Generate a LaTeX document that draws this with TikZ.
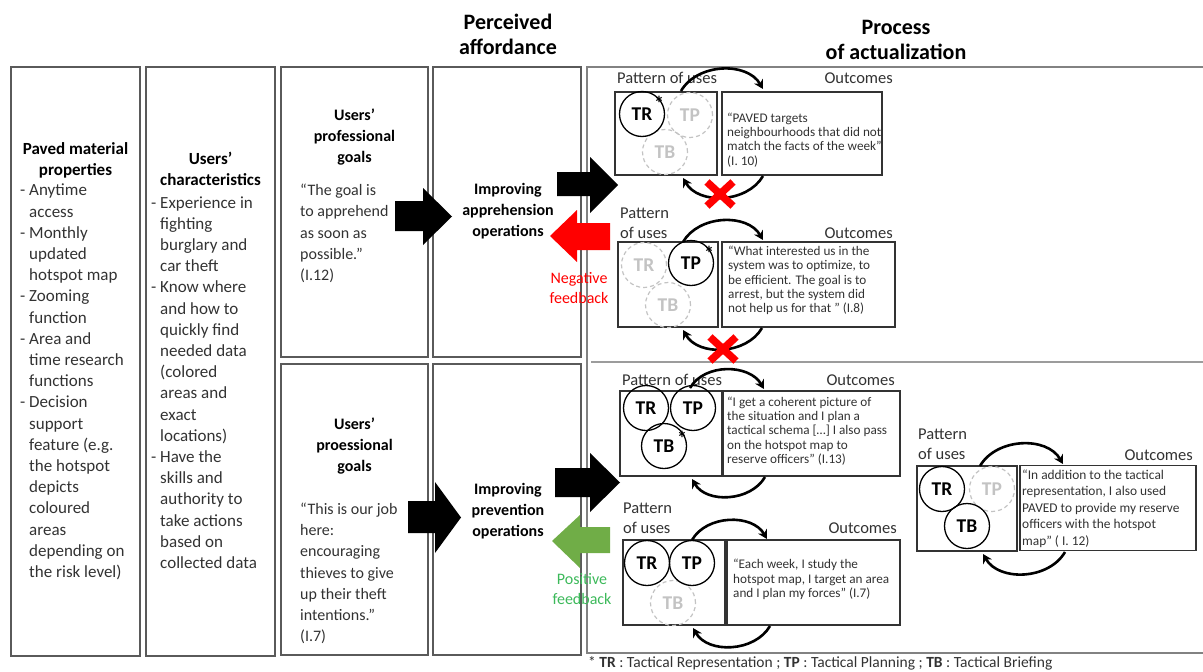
\documentclass[tikz,border=0pt]{standalone}
\usepackage{fontspec}
\setmainfont{Carlito}
\usetikzlibrary{arrows.meta}
\definecolor{boxgray}{RGB}{90,90,90}
\definecolor{procgray}{RGB}{130,130,130}
\definecolor{fadegray}{RGB}{195,195,195}
\definecolor{txtgray}{RGB}{50,50,50}
\definecolor{negred}{RGB}{255,0,0}
\definecolor{posgreen}{RGB}{112,173,71}
\definecolor{postxt}{RGB}{60,185,90}
\newcommand\mycolfont{\fontsize{17}{21.2}\selectfont}
\newcommand\mygoalfont{\fontsize{16}{21.2}\selectfont}
\newcommand\myqfont{\fontsize{13.2}{14.3}\selectfont}
\newcommand\mylabfont{\fontsize{16.5}{20}\selectfont}
\newcommand\myind{\phantom{- }}
\begin{document}
\begin{tikzpicture}[x=1pt,y=-1pt,
  colbox/.style={draw=boxgray, line width=1.4pt, inner sep=0},
  pbox/.style={draw=black!80, line width=1.3pt, inner sep=0},
  usedc/.style={circle, draw=black, line width=1.3pt, minimum size=45pt, inner sep=0, font=\bfseries\fontsize{19.5}{19.5}\selectfont},
  unusedc/.style={circle, draw=fadegray, dash pattern=on 4pt off 3pt, line width=1.2pt, minimum size=45pt, inner sep=0, text=fadegray, font=\bfseries\fontsize{19.5}{19.5}\selectfont},
  starlab/.style={inner sep=0, font=\bfseries\fontsize{20}{20}\selectfont},
  cyclearrow/.style={line width=2.6pt, -{Stealth[length=9pt,width=10pt]}},
  redx/.style={line width=7.5pt, draw=negred},
  qtext/.style={anchor=west, align=left, inner sep=0, text=txtgray, font=\myqfont},
  labtext/.style={inner sep=0, align=left, text=txtgray, font=\mylabfont},
  hdr/.style={inner sep=0, align=center, font=\bfseries\fontsize{22}{25.5}\selectfont},
  colhead/.style={inner sep=0, align=center, font=\bfseries\mycolfont},
  collist/.style={anchor=west, inner sep=0, align=left, text=txtgray, font=\mycolfont},
  goalhead/.style={inner sep=0, align=center, font=\bfseries\mygoalfont},
  goallist/.style={anchor=west, inner sep=0, align=left, text=txtgray, font=\mygoalfont}
]
\useasboundingbox (0,0) rectangle (1203,672);

% ---------- column boxes ----------
\node[colbox, minimum width=129pt, minimum height=589pt] (c1) at (75.5,361.5) {};
\node[colbox, minimum width=129pt, minimum height=589pt] (c2) at (210.5,361.5) {};
\node[colbox, minimum width=147pt, minimum height=290pt] (g1) at (354.5,212) {};
\node[colbox, minimum width=147pt, minimum height=291pt] (g2) at (354.5,509.5) {};
\node[colbox, minimum width=148pt, minimum height=290pt] (a1) at (507,212) {};
\node[colbox, minimum width=148pt, minimum height=291pt] (a2) at (507,509.5) {};

% ---------- process frame ----------
\coordinate (pTL) at (587,67);
\coordinate (pTR) at (1203,67);
\coordinate (pBL) at (587,653);
\coordinate (pBR) at (1203,653);
\coordinate (pML) at (591,362);
\coordinate (pMR) at (1203,362);
\draw[procgray, line width=1.8pt] (pTR) -- (pTL) -- (pBL) -- (pBR);
\draw[fadegray!80!black, line width=1.4pt] (pML) -- (pMR);

% ---------- headers ----------
\node[hdr] (h1) at (508,34.5) {Perceived\\affordance};
\node[hdr] (h2) at (896,40) {Process\\of actualization};

% ---------- column 1 ----------
\node[colhead] (c1h) at (75.5,160) {Paved material\\properties};
\node[collist] (c1l) at (20,382) {- Anytime\\\myind access\\- Monthly\\\myind updated\\\myind hotspot map\\- Zooming\\\myind function\\- Area and\\\myind time research\\\myind functions\\- Decision\\\myind support\\\myind feature (e.g.\\\myind the hotspot\\\myind depicts\\\myind coloured\\\myind areas\\\myind depending on\\\myind the risk level)};

% ---------- column 2 ----------
\node[colhead] (c2h) at (210.5,169) {Users’\\characteristics};
\node[collist] (c2l) at (151,382.5) {- Experience in\\\myind fighting\\\myind burglary and\\\myind car theft\\- Know where\\\myind and how to\\\myind quickly find\\\myind needed data\\\myind (colored\\\myind areas and\\\myind exact\\\myind locations)\\- Have the\\\myind skills and\\\myind authority to\\\myind take actions\\\myind based on\\\myind collected data};

% ---------- goals ----------
\node[goalhead] (g1h) at (354.5,137) {Users’\\professional\\goals};
\node[goallist] (g1q) at (300,233.5) {“The goal is\\to apprehend\\as soon as\\possible.”\\(I.12)};
\node[goalhead] (g2h) at (354.5,446) {Users’\\proessional\\goals};
\node[goallist] (g2q) at (300,573.5) {“This is our job\\here:\\encouraging\\thieves to give\\up their theft\\intentions.”\\(I.7)};

% ---------- affordances ----------
\node[goalhead] (a1t) at (508,211) {Improving\\apprehension\\operations};
\node[goalhead] (a2t) at (508,511) {Improving\\prevention\\operations};

% ---------- block arrows ----------
\fill[black] (395,201) -- (423,201) -- (423,188) -- (452,216.5) -- (423,245) -- (423,231) -- (395,231) -- cycle;
\fill[black] (557,172) -- (590,172) -- (590,157) -- (618,185) -- (590,213) -- (590,196) -- (557,196) -- cycle;
\fill[negred] (610,223) -- (577,223) -- (577,210) -- (550,236) -- (577,262) -- (577,250) -- (610,250) -- cycle;
\fill[black] (408,501) -- (435,501) -- (435,482) -- (461,517.5) -- (435,553) -- (435,533) -- (408,533) -- cycle;
\fill[black] (555,468) -- (590,468) -- (590,453) -- (620,482.5) -- (590,512) -- (590,497) -- (555,497) -- cycle;
\fill[posgreen] (610,527) -- (580,527) -- (580,515) -- (552,541) -- (580,568) -- (580,553) -- (610,553) -- cycle;

\node[inner sep=0, align=center, text=negred, font=\fontsize{16}{20}\selectfont] (negfb) at (579,288) {Negative\\feedback};
\node[inner sep=0, align=center, text=postxt, font=\fontsize{16}{20}\selectfont] (posfb) at (582,589) {Positive\\feedback};

% ---------- block A ----------
\node[labtext, anchor=west] (lA) at (617,78) {Pattern of uses};
\node[labtext, anchor=east] (oA) at (893,78) {Outcomes};
\node[pbox, minimum width=102pt, minimum height=83pt] (pA) at (666,133.5) {};
\node[pbox, minimum width=160pt, minimum height=83pt] (qA) at (802,133.5) {};
\node[unusedc] (A2) at (690,115) {TP};
\node[unusedc] (A3) at (665,152) {TB};
\node[usedc] (A1) at (642,114) {TR};
\node[starlab] (sA) at (659,103) {*};
\node[qtext] (tA) at (727,140) {“PAVED targets\\neighbourhoods that did not\\match the facts of the week”\\(I. 10)};
\coordinate (aT1) at (681,91);
\coordinate (aT2) at (763,89);
\coordinate (aB1) at (763,176);
\coordinate (aB2) at (683,178);
\draw[cyclearrow] (aT1) to[out=60,in=120] (aT2);
\draw[cyclearrow] (aB1) to[out=-120,in=-60] (aB2);
\coordinate (xA) at (720,194);
\draw[redx] ([shift={(-13,-12)}]xA) -- ([shift={(13,12)}]xA);
\draw[redx] ([shift={(-13,12)}]xA) -- ([shift={(13,-12)}]xA);

% ---------- block B ----------
\node[labtext, anchor=west] (lB) at (620,223) {Pattern\\of uses};
\node[labtext, anchor=east] (oB) at (893,233) {Outcomes};
\node[pbox, minimum width=100pt, minimum height=85pt] (pB) at (668,284.5) {};
\node[pbox, minimum width=173pt, minimum height=85pt] (qB) at (808.5,284.5) {};
\node[unusedc] (B1) at (644,265) {TR};
\node[unusedc] (B3) at (668,305) {TB};
\node[usedc] (B2) at (691,263) {TP};
\node[starlab] (sB) at (709,253) {*};
\node[qtext] (tB) at (728,280.5) {“What interested us in the\\system was to optimize, to\\be efficient. The goal is to\\arrest, but the system did\\not help us for that ” (I.8)};
\coordinate (bT1) at (683,242);
\coordinate (bT2) at (763,240);
\coordinate (bB1) at (762,328);
\coordinate (bB2) at (683,330);
\draw[cyclearrow] (bT1) to[out=60,in=120] (bT2);
\draw[cyclearrow] (bB1) to[out=-120,in=-60] (bB2);
\coordinate (xB) at (723,349);
\draw[redx] ([shift={(-13,-12)}]xB) -- ([shift={(13,12)}]xB);
\draw[redx] ([shift={(-13,12)}]xB) -- ([shift={(13,-12)}]xB);

% ---------- block C ----------
\node[labtext, anchor=west] (lC) at (622,380) {Pattern of uses};
\node[labtext, anchor=east] (oC) at (895,380) {Outcomes};
\node[pbox, minimum width=102pt, minimum height=85pt] (pC) at (671,433.5) {};
\node[pbox, minimum width=177pt, minimum height=85pt] (qC) at (811.5,433.5) {};
\node[usedc] (C1) at (646,408) {TR};
\node[usedc] (C2) at (693,408) {TP};
\node[usedc] (C3) at (664,446) {TB};
\node[starlab] (sC) at (682,438) {*};
\node[qtext] (tC) at (727,431) {“I get a coherent picture of\\the situation and I plan a\\tactical schema […] I also pass\\on the hotspot map to\\reserve officers” (I.13)};
\coordinate (cT1) at (690,388);
\coordinate (cT2) at (764,389);
\coordinate (cB1) at (765,477);
\coordinate (cB2) at (692,479);
\draw[cyclearrow] (cT1) to[out=60,in=120] (cT2);
\draw[cyclearrow] (cB1) to[out=-120,in=-60] (cB2);

% ---------- block D ----------
\node[labtext, anchor=west] (lD) at (623,518) {Pattern\\of uses};
\node[labtext, anchor=east] (oD) at (897,528) {Outcomes};
\node[pbox, minimum width=102pt, minimum height=85pt] (pD) at (674,582.5) {};
\node[pbox, minimum width=173pt, minimum height=85pt] (qD) at (813.5,582.5) {};
\node[unusedc] (D3) at (673,603) {TB};
\node[usedc] (D1) at (647,563) {TR};
\node[usedc] (D2) at (692,563) {TP};
\node[qtext] (tD) at (733,579.5) {“Each week, I study the\\hotspot map, I target an area\\and I plan my forces” (I.7)};
\coordinate (dT1) at (692,540);
\coordinate (dT2) at (767,539);
\coordinate (dB1) at (770,626);
\coordinate (dB2) at (693,628);
\draw[cyclearrow] (dT1) to[out=60,in=120] (dT2);
\draw[cyclearrow] (dB1) to[out=-120,in=-60] (dB2);

% ---------- block E ----------
\node[labtext, anchor=west] (lE) at (918,444) {Pattern\\of uses};
\node[labtext, anchor=east] (oE) at (1193,455) {Outcomes};
\node[pbox, minimum width=100pt, minimum height=85pt] (pE) at (967,508.5) {};
\node[pbox, minimum width=176pt, minimum height=85pt] (qE) at (1108,508) {};
\node[unusedc] (E2) at (992,489) {TP};
\node[usedc] (E1) at (942,489) {TR};
\node[usedc] (E3) at (967,526) {TB};
\node[qtext, font=\fontsize{13.4}{16.6}\selectfont] (tE) at (1022,508.5) {“In addition to the tactical\\representation, I also used\\PAVED to provide my reserve\\officers with the hotspot\\map” ( I. 12)};
\coordinate (eT1) at (980,466);
\coordinate (eT2) at (1063,464);
\coordinate (eB1) at (1065,552);
\coordinate (eB2) at (983,554);
\draw[cyclearrow] (eT1) to[out=60,in=120] (eT2);
\draw[cyclearrow] (eB1) to[out=-120,in=-60] (eB2);

% ---------- footnote ----------
\node[anchor=west, inner sep=0, text=txtgray, font=\fontsize{15.5}{18}\selectfont] (fn) at (588,663) {* \textbf{TR} : Tactical Representation ; \textbf{TP} : Tactical Planning ; \textbf{TB} : Tactical Briefing};
\end{tikzpicture}
\end{document}
